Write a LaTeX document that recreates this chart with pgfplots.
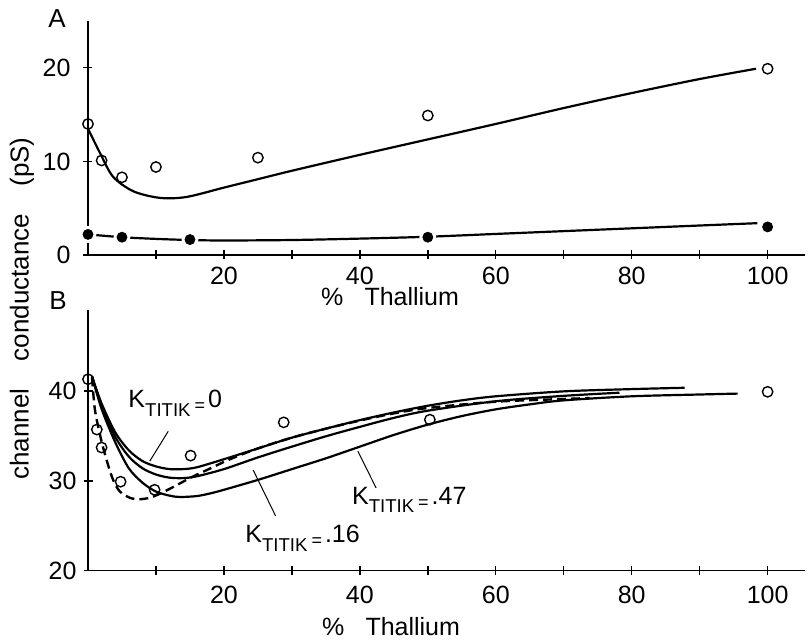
\documentclass[border=0pt]{standalone}
\usepackage{pgfplots}
\pgfplotsset{compat=1.18}
\usepackage{pgfplotstable}
\usepackage{fontspec}
\setmainfont{Liberation Sans}

\pgfplotstableread{
x y
0 14
2 10.1
5 8.3
10 9.4
25 10.4
50 14.9
100 19.9
}\Aopen

\pgfplotstableread{
x y
0 2.2
5 1.9
15 1.65
50 1.9
100 3.0
}\Afilled

\pgfplotstableread{
x y
0 41.3
1.3 35.7
2 33.7
4.8 29.9
9.8 29.0
15.1 32.8
28.8 36.5
50.3 36.8
100 39.9
}\Bopen

\newcommand{\Kt}[1]{K\raisebox{-4.2pt}{\fontsize{9.3}{10}\selectfont TITIK}\hspace{2pt}\raisebox{-2pt}{\fontsize{9}{10}\selectfont =}\hspace{1.5pt}#1}

\pgfplotsset{panel/.style={
  scale only axis, width=358.5pt,
  xmin=0, xmax=105.5,
  axis x line=bottom, axis y line=left,
  axis line style={-, line width=0.75pt},
  tick align=center, major tick length=4.5pt, minor tick length=4.5pt,
  every tick/.style={line width=0.7pt, black},
  xtick={20,40,60,80,100}, minor xtick={10,30,50,70,90},
  /pgf/number format/assume math mode=true,
  tick label style={font=\fontsize{12.5}{14}\selectfont},
  clip=false,
}}

\begin{document}
\begin{tikzpicture}
\useasboundingbox (0pt,0pt) rectangle (404.5pt,-320pt);

% Panel A
\begin{axis}[panel, at={(44pt,-127.5pt)}, anchor=south west,
  height=117pt, ymin=0, ymax=25, ytick={0,10,20},
  yticklabel style={xshift=-3pt}, axis on top]
\addplot[smooth, line width=1.1pt, no markers] coordinates {
(0,13.5) (1.8,10.85) (3.7,8.35) (6.7,6.8) (10.6,6.1) (14.5,6.2) (20,7.2)
(25,8.1) (30,9.0) (40,10.7) (50,12.35) (60,14.0) (70,15.7) (80,17.3)
(90,18.8) (98.3,19.9)};
\addplot[smooth, line width=1.1pt, no markers] coordinates {
(0,2.2) (5,1.9) (10,1.72) (15,1.6) (20,1.55) (30,1.6) (40,1.75) (50,1.95)
(60,2.25) (70,2.55) (80,2.85) (90,3.15) (98.5,3.4)};
\addplot[only marks, mark=*, mark size=4.0pt, mark options={white}] table {\Afilled};
\addplot[only marks, mark=*, mark size=2.5pt, mark options={fill=black, draw=black}] table {\Afilled};
\addplot[only marks, mark=o, mark size=2.6pt, mark options={fill=white, draw=black, line width=0.7pt}] table {\Aopen};
\end{axis}

% Panel B
\begin{axis}[panel, at={(44pt,-285.35pt)}, anchor=south west,
  height=130.35pt, ymin=20, ymax=49, ytick={20,30,40},
  xticklabel style={yshift=-2pt}]
% K = 0
\addplot[smooth, line width=1.1pt, no markers] coordinates {
(0.6,41.6) (2,38.6) (4,35.4) (6,33.4) (8,32.2) (10,31.6) (12,31.3) (14,31.3)
(16,31.5) (20,32.4) (25,33.6) (30,34.8) (35,35.8) (40,36.75) (45,37.6) (50,38.35)
(55,38.95) (60,39.4) (70,39.95) (80,40.2) (87.8,40.35)};
% K = .16
\addplot[smooth, line width=1.1pt, no markers] coordinates {
(0.6,41.6) (2,38.3) (4,34.9) (6,32.7) (8,31.4) (10,30.7) (12,30.35) (14,30.3)
(16,30.5) (20,31.3) (25,32.6) (30,33.8) (35,34.95) (40,36.0) (45,37.0) (50,37.8)
(60,38.85) (70,39.45) (78.2,39.8)};
% K = .47
\addplot[smooth, line width=1.1pt, no markers] coordinates {
(0.6,41.6) (2,38.0) (4,34.3) (6,31.4) (8,29.8) (10,28.8) (12,28.35) (13.5,28.2)
(16,28.3) (18,28.6) (20,29.0) (25,30.1) (30,31.3) (35,32.5) (40,33.8) (45,35.1)
(50,36.25) (55,37.2) (60,37.95) (65,38.5) (70,38.95) (80,39.4) (90,39.6) (95.6,39.7)};
% dashed
\addplot[smooth, line width=1.2pt, no markers, dash pattern=on 4.5pt off 2.5pt] coordinates {
(0.6,41.5) (1,38.0) (1.8,35.0) (2.7,32.4) (3.7,30.1) (4.7,28.8) (6.2,28.1)
(7.6,27.95) (9,28.1) (10.1,28.4) (12,29.1) (13.5,29.7) (15.5,30.5) (17.5,31.2)
(20.9,32.4) (25,33.6) (30,34.8) (35,35.8) (40,36.7) (45,37.5) (50,38.1) (60,38.8) (70,39.1) (73.8,39.2)};
\addplot[only marks, mark=o, mark size=2.6pt, mark options={fill=white, draw=black, line width=0.7pt}] table {\Bopen};
% pointer lines
\draw[line width=0.5pt] (axis cs:11.8,35.5) -- (axis cs:9.1,32.2);
\draw[line width=0.5pt] (axis cs:27.6,26.1) -- (axis cs:24.3,31.2);
\draw[line width=0.5pt] (axis cs:42.4,29.2) -- (axis cs:39.7,33.3);
\node[anchor=base west, inner sep=0pt, font=\fontsize{12.5}{14}\selectfont] at (axis cs:5.9,38.1) {\Kt{0}};
\node[anchor=base west, inner sep=0pt, font=\fontsize{12.5}{14}\selectfont] at (axis cs:23.1,23.1) {\Kt{.16}};
\node[anchor=base west, inner sep=0pt, font=\fontsize{12.5}{14}\selectfont] at (axis cs:38.8,27.4) {\Kt{.47}};
\end{axis}

\node[font=\fontsize{13}{15}\selectfont] at (28.5pt,-9.5pt) {A};
\node[font=\fontsize{13}{15}\selectfont] at (29pt,-150.5pt) {B};
\node[rotate=90, font=\fontsize{13}{15}\selectfont] at (11pt,-154.25pt) {channel\hspace{1.05em}conductance\hspace{1.05em}(pS)};
\node[font=\fontsize{12.5}{14}\selectfont] at (195pt,-148.5pt) {\%\hspace{0.85em}Thallium};
\node[font=\fontsize{12.5}{14}\selectfont] at (195.5pt,-313.5pt) {\%\hspace{0.85em}Thallium};
\end{tikzpicture}
\end{document}
